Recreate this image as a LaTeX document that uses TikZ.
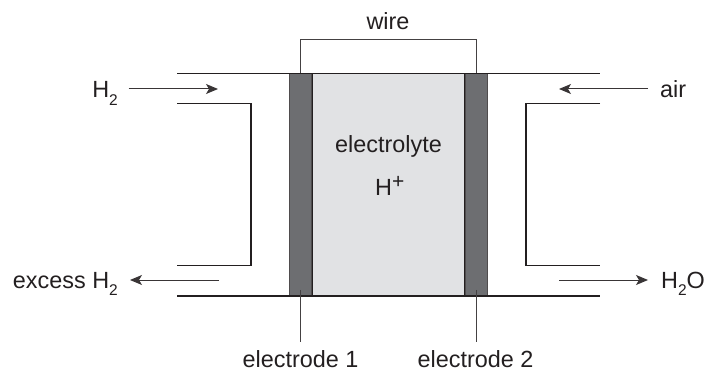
\documentclass[tikz,border=0pt]{standalone}
\usepackage{fontspec}
\setmainfont{Liberation Sans}
\usepackage{tikz}
\usetikzlibrary{positioning,arrows.meta}
\definecolor{celldark}{RGB}{109,110,113}
\definecolor{cellgrey}{RGB}{225,226,228}
\definecolor{cellink}{RGB}{35,31,32}
\newcommand{\subtwo}{\raisebox{-0.34em}{\fontsize{15.5}{15.5}\selectfont 2}}
\newcommand{\supplus}{\raisebox{0.3em}{\fontsize{21}{21}\selectfont +}}

\begin{document}
\begin{tikzpicture}[
  x=1pt, y=1pt,
  font=\fontsize{23.4}{27}\selectfont,
  lab/.style={inner sep=0pt, text=cellink},
  elyte/.style={rectangle, draw=cellink, line width=0.9pt, fill=cellgrey,
                minimum width=152pt, minimum height=223pt, inner sep=0pt},
  elec/.style={rectangle, draw=cellink!80, line width=1pt, fill=celldark,
               minimum width=22pt, minimum height=223pt, inner sep=0pt},
  duct/.style={cellink, line width=1.8pt},
  thin/.style={cellink!85, line width=1.2pt},
  arr/.style={-{Stealth[length=12pt,width=10pt,inset=3pt]}, cellink!90, line width=1pt}
]
\useasboundingbox (0,0) rectangle (706,-371);

\node[elyte] (E) at (388.5,-184.8) {};
\node[elec, left=0pt of E] (EA) {};
\node[elec, right=0pt of E] (EB) {};

\node[lab, anchor=base] (elabel) at (388.5,-153) {electrolyte};
\node[lab, anchor=base west] (hplus) at (375,-195.5) {H\supplus};

%% wire across the top
\node[lab, anchor=base] (wire) at (388,-30) {wire};
\draw[thin] (EA.north) -- ++(0,33.5) -| (EB.north);

%% channels
\coordinate (TL) at (177,-73.5);
\coordinate (TR) at (600,-73.5);
\coordinate (BL) at (177,-296.3);
\coordinate (BR) at (600,-296.3);
\draw[duct] (TL) -- (TR);
\draw[duct] (BL) -- (BR);
\coordinate (LA) at (177,-103.5);
\coordinate (LB) at (251,-103.5);
\coordinate (LC) at (251,-265.5);
\coordinate (LD) at (177,-265.5);
\draw[duct] (LA) -- (LB) -- (LC) -- (LD);
\coordinate (RA) at (600,-103.5);
\coordinate (RB) at (526,-103.5);
\coordinate (RC) at (526,-265.5);
\coordinate (RD) at (600,-265.5);
\draw[duct] (RA) -- (RB) -- (RC) -- (RD);

%% gas labels
\node[lab, anchor=base east] (hin) at (118,-98) {H\subtwo};
\node[lab, anchor=base west] (air) at (660,-98) {air};
\node[lab, anchor=base east] (hout) at (118,-288) {excess H\subtwo};
\node[lab, anchor=base west] (water) at (661,-288) {H\subtwo O};

\coordinate (hinA) at (128.5,-89);
\coordinate (hinB) at (218,-89);
\coordinate (airA) at (648,-89);
\coordinate (airB) at (559,-89);
\coordinate (houtA) at (219,-280);
\coordinate (houtB) at (130,-280);
\coordinate (waterA) at (559,-280);
\coordinate (waterB) at (648,-280);
\draw[arr] (hinA) -- (hinB);
\draw[arr] (airA) -- (airB);
\draw[arr] (houtA) -- (houtB);
\draw[arr] (waterA) -- (waterB);

%% electrode labels
\node[lab, anchor=base] (nameA) at (300.5,-367.5) {electrode 1};
\node[lab, anchor=base] (nameB) at (475.5,-367.5) {electrode 2};
\coordinate[above=7pt of EA.south] (leadA);
\coordinate[above=7pt of EB.south] (leadB);
\coordinate[below=45pt of EA.south] (endA);
\coordinate[below=45pt of EB.south] (endB);
\draw[thin] (leadA) -- (endA);
\draw[thin] (leadB) -- (endB);

\end{tikzpicture}
\end{document}
